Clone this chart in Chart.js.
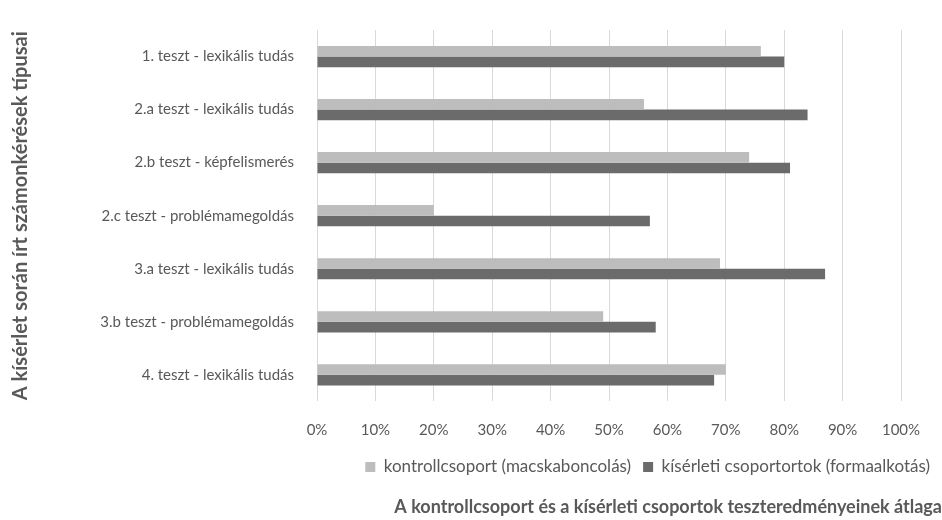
<!DOCTYPE html>
<html>
<head>
<meta charset="utf-8">
<script src="https://cdn.jsdelivr.net/npm/chart.js@4/dist/chart.umd.min.js"></script>
<style>
  html, body { margin: 0; padding: 0; background: #fff; }
</style>
</head>
<body>
<canvas id="chart" width="942" height="520"></canvas>
<script>
const categories = [
    '1. teszt - lexikális tudás',
    '2.a teszt - lexikális tudás',
    '2.b teszt - képfelismerés',
    '2.c teszt - problémamegoldás',
    '3.a teszt - lexikális tudás',
    '3.b teszt - problémamegoldás',
    '4. teszt - lexikális tudás'
];
const controlGroup = [76, 56, 74, 20, 69, 49, 70];
const experimentalGroup = [80, 84, 81, 57, 87, 58, 68];
const seriesNames = ['kontrollcsoport (macskaboncolás)', 'kísérleti csoportortok (formaalkotás)'];
const xTitle = 'A kontrollcsoport és a kísérleti csoportok teszteredményeinek átlaga';
const yTitle = 'A kísérlet során írt számonkérések típusai';

const textColor = '#595959';
const fontFamily = 'Lato, "Liberation Sans", sans-serif';

new Chart(document.getElementById('chart'), {
    type: 'bar',
    data: {
        labels: categories,
        datasets: [
            { label: seriesNames[0], data: controlGroup, backgroundColor: '#bdbdbd' },
            { label: seriesNames[1], data: experimentalGroup, backgroundColor: '#6b6b6b' }
        ]
    },
    options: {
        indexAxis: 'y',
        responsive: false,
        animation: false,
        devicePixelRatio: 1,
        categoryPercentage: 0.4,
        barPercentage: 1,
        layout: { padding: { top: 30, left: 0, right: 0, bottom: 0 } },
        scales: {
            x: {
                min: 0,
                max: 100,
                ticks: {
                    stepSize: 10,
                    color: textColor,
                    padding: 20,
                    font: { family: fontFamily, size: 15 },
                    callback: v => v + '%'
                },
                grid: { color: '#d9d9d9', drawTicks: false },
                border: { display: false },
                afterFit: scale => { scale.height = 45; scale.paddingRight = 41; }
            },
            y: {
                ticks: {
                    color: textColor,
                    padding: 15,
                    font: { family: fontFamily, size: 15 }
                },
                grid: { display: false },
                border: { display: false },
                title: {
                    display: true,
                    text: yTitle,
                    color: textColor,
                    padding: { top: 9, bottom: 6 },
                    font: { family: fontFamily, size: 20, weight: 'bold' }
                },
                afterFit: scale => { scale.width = 317; }
            }
        },
        plugins: {
            legend: {
                position: 'bottom',
                align: 'end',
                labels: {
                    color: textColor,
                    boxWidth: 10,
                    boxHeight: 10,
                    padding: 12,
                    font: { family: fontFamily, size: 17 }
                }
            },
            title: {
                display: true,
                position: 'bottom',
                align: 'end',
                text: xTitle,
                color: textColor,
                padding: { top: 11, bottom: 2 },
                font: { family: fontFamily, size: 18, weight: 'bold' }
            },
            tooltip: { enabled: false }
        }
    }
});
</script>
</body>
</html>
